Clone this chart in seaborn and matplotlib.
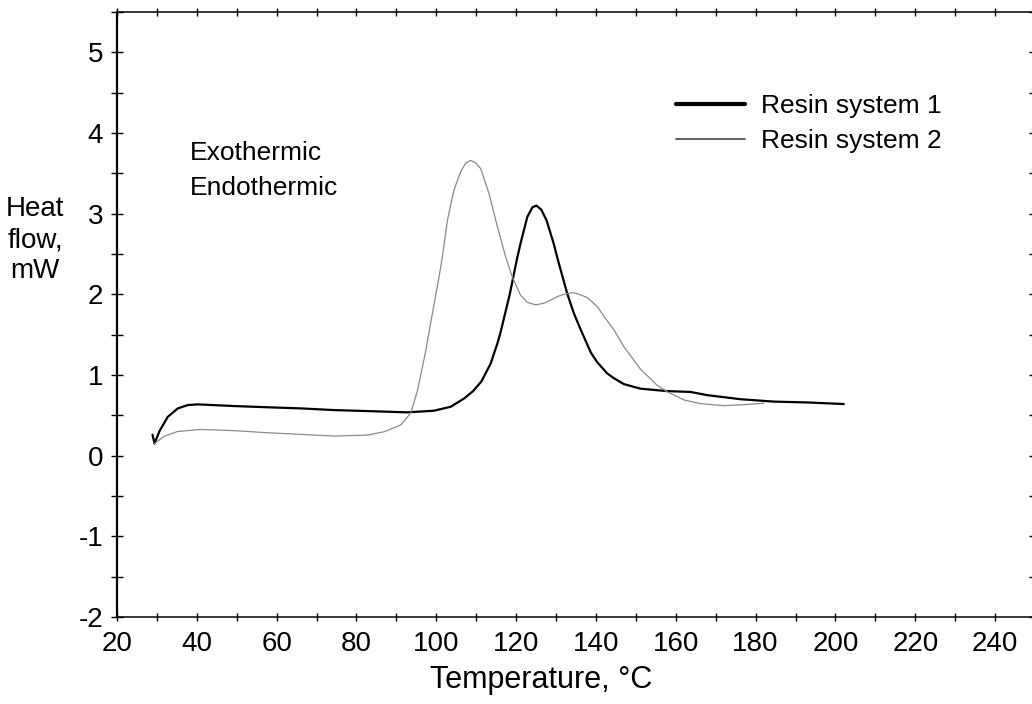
import numpy as np
import pandas as pd
import matplotlib
matplotlib.use("Agg")
import matplotlib.pyplot as plt
from matplotlib.ticker import MultipleLocator
import seaborn as sns

# DSC traces
temp_resin1 = [28.9, 29.4, 30.6, 32.7, 35.2, 37.7, 40.2, 49.4, 57.7, 66.1, 74.4, 82.7,
               92.7, 99.4, 103.6, 107.0, 109.2, 111.3, 113.6, 115.3, 116.1, 118.4, 120.3,
               121.2, 122.8, 124.1, 125.1, 126.3, 127.6, 129.4, 130.5, 132.8, 134.5,
               136.2, 138.7, 140.3, 142.8, 144.5, 147.0, 151.2, 157.9, 163.7, 167.9,
               176.2, 184.6, 192.9, 202.1]
flow_resin1 = [0.26, 0.15, 0.30, 0.48, 0.585, 0.627, 0.636, 0.615, 0.60, 0.586, 0.565, 0.553,
               0.537, 0.557, 0.606, 0.71, 0.80, 0.92, 1.14, 1.39, 1.53, 2.00, 2.46,
               2.65, 2.96, 3.08, 3.10, 3.05, 2.92, 2.63, 2.42, 2.01, 1.76,
               1.56, 1.28, 1.16, 1.02, 0.96, 0.887, 0.83, 0.80, 0.79, 0.75,
               0.70, 0.67, 0.66, 0.64]

temp_resin2 = [29.4, 31.8, 35.2, 41.0, 49.4, 57.7, 66.1, 74.4, 82.7, 86.9, 91.1, 93.6,
               95.3, 97.4, 97.8, 100.7, 101.5, 102.8, 104.4, 106.1, 107.4, 108.6, 109.9,
               111.1, 113.2, 115.3, 117.4, 119.0, 121.1, 122.8, 124.9, 127.0, 128.7,
               130.7, 132.8, 134.0, 135.3, 137.8, 140.3, 142.4, 144.5, 147.0, 151.2,
               155.3, 157.9, 162.1, 166.2, 172.1, 176.2, 182.1]
flow_resin2 = [0.15, 0.24, 0.30, 0.325, 0.31, 0.284, 0.264, 0.243, 0.255, 0.296, 0.38, 0.53,
               0.81, 1.31, 1.43, 2.22, 2.46, 2.92, 3.29, 3.52, 3.63, 3.66, 3.63,
               3.56, 3.25, 2.84, 2.46, 2.22, 1.99, 1.90, 1.87, 1.89, 1.93,
               1.98, 2.01, 2.02, 2.01, 1.96, 1.85, 1.70, 1.56, 1.35, 1.07,
               0.875, 0.79, 0.69, 0.645, 0.62, 0.63, 0.65]

x_ticks = list(range(20, 241, 20))
y_ticks = list(range(-2, 6))

sns.set_style("ticks")
plt.rcParams['font.family'] = ['Liberation Sans', 'DejaVu Sans']
plt.rcParams['text.color'] = 'black'
plt.rcParams['axes.labelcolor'] = 'black'

fig = plt.figure(figsize=(10.32, 7.04), dpi=100)
# right edge sits just past the figure, like the cropped scan
ax = fig.add_axes([117 / 1032, 87 / 704, 918 / 1032, 605 / 704])

d1 = pd.DataFrame({"T": temp_resin1, "Q": flow_resin1})
d2 = pd.DataFrame({"T": temp_resin2, "Q": flow_resin2})
sns.lineplot(data=d1, x="T", y="Q", ax=ax, sort=False, estimator=None,
             color="black", linewidth=1.6, label="Resin system 1")
sns.lineplot(data=d2, x="T", y="Q", ax=ax, sort=False, estimator=None,
             color="#8a8a8a", linewidth=0.9, label="Resin system 2")

ax.set_xlim(20, 250)
ax.set_ylim(-2, 5.5)
ax.set_xticks(x_ticks)
ax.set_yticks(y_ticks)
ax.xaxis.set_minor_locator(MultipleLocator(10))
ax.yaxis.set_minor_locator(MultipleLocator(0.5))
ax.tick_params(axis="x", which="both", direction="inout", length=6, width=1,
               top=True, bottom=True, labelsize=20, pad=7, colors="black")
ax.tick_params(axis="y", which="both", direction="inout", length=8, width=1,
               left=True, right=True, labelsize=20, pad=6, colors="black")
ax.set_yticklabels([str(v) for v in y_ticks])

ax.spines["left"].set_linewidth(1.6)
for s in ["bottom", "top", "right"]:
    ax.spines[s].set_linewidth(1.1)
for s in ax.spines.values():
    s.set_color("black")

ax.set_xlabel("Temperature, \u00b0C", fontsize=22)
ax.xaxis.set_label_coords(0.462, -0.08)
ax.set_ylabel("Heat\nflow,\nmW", fontsize=20, rotation=0, ha="center", va="center",
              linespacing=1.25)
ax.yaxis.set_label_coords(-0.089, 0.623)

ax.text(0.0795, 0.767, "Exothermic", transform=ax.transAxes, fontsize=19,
        va="center", ha="left")
ax.text(0.0795, 0.709, "Endothermic", transform=ax.transAxes, fontsize=19,
        va="center", ha="left")

leg = ax.legend(loc="upper left", bbox_to_anchor=(0.609, 0.864), frameon=False,
                prop={"size": 19}, handlelength=2.6,
                handletextpad=0.6, labelspacing=0.42, borderpad=0, borderaxespad=0)
leg.get_lines()[0].set_linewidth(3.0)
leg.get_lines()[1].set_linewidth(1.2)
leg.get_lines()[1].set_color("#444444")

fig.savefig("out.png", dpi=100)
